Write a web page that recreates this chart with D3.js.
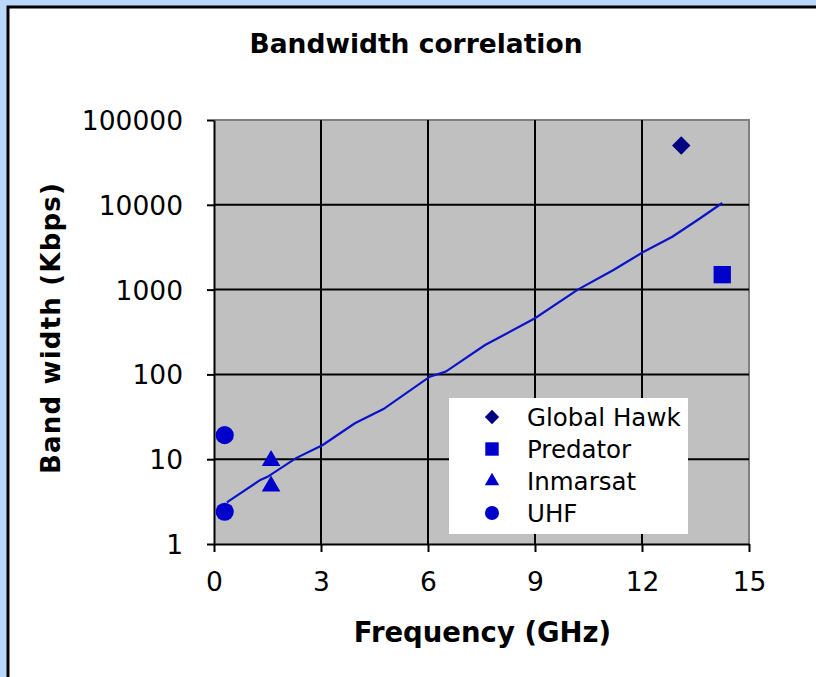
<!DOCTYPE html>
<html>
<head>
<meta charset="utf-8">
<script src="https://cdn.jsdelivr.net/npm/d3@7"></script>
<style>
  html, body { margin: 0; padding: 0; background: #fff; overflow: hidden; }
  svg { display: block; }
</style>
</head>
<body>
<div id="chart"></div>
<script>
!function () {
  'use strict';

  // series (GHz, Kbps)
  var globalHawkX = [13.1],  globalHawkY = [50000];
  var predatorX   = [14.25], predatorY   = [1500];
  var inmarsatX   = [1.6, 1.6], inmarsatY = [9.6, 4.8];
  var uhfX        = [0.3, 0.3], uhfY      = [19.2, 2.4];

  // trendline
  var trendX = [0.36, 1.3, 1.5, 2.3, 3.05, 3.95, 4.75, 6.05, 6.5, 7.6, 9.0, 10.2, 11.2, 12.05, 12.85, 13.6, 14.25];
  var trendY = [3.1, 5.7, 6.2, 10.3, 14.7, 26.5, 39, 94, 108, 222, 460, 1000, 1700, 2800, 4200, 6800, 10500];

  var xTicks = [0, 3, 6, 9, 12, 15];
  var yTicks = [1, 10, 100, 1000, 10000, 100000];

  var legendNames = ["Global Hawk", "Predator", "Inmarsat", "UHF"];

  var W = 816, H = 677;
  var plot = { left: 214, top: 120, right: 749, bottom: 544 };

  var svg = d3.select("#chart").append("svg")
    .attr("width", W)
    .attr("height", H)
    .style("font-family", "'DejaVu Sans', sans-serif");

  // panel: blue strip left/top, black edge, white beyond
  svg.append("rect").attr("x", 0).attr("y", 0).attr("width", W).attr("height", H).attr("fill", "#b9d6fb");
  svg.append("rect").attr("x", 8).attr("y", 7).attr("width", W).attr("height", H).attr("fill", "#fff");
  svg.append("path")
    .attr("d", "M8," + H + "V7H" + W)
    .attr("fill", "none").attr("stroke", "#000").attr("stroke-width", 3);

  var x = d3.scaleLinear().domain([0, 15]).range([plot.left, plot.right]);
  var y = d3.scaleLog().domain([1, 100000]).range([plot.bottom, plot.top]);

  svg.append("rect")
    .attr("x", plot.left).attr("y", plot.top)
    .attr("width", plot.right - plot.left).attr("height", plot.bottom - plot.top)
    .attr("fill", "#c0c0c0");

  // top and right frame
  svg.append("path")
    .attr("d", "M" + plot.left + "," + plot.top + "H" + plot.right + "V" + plot.bottom)
    .attr("fill", "none").attr("stroke", "#808080").attr("stroke-width", 2);

  // gridlines
  svg.append("g").selectAll("line.gy")
    .data(yTicks.slice(1, -1))
    .enter().append("line")
    .attr("x1", plot.left).attr("x2", plot.right)
    .attr("y1", function (d) { return y(d); })
    .attr("y2", function (d) { return y(d); })
    .attr("stroke", "#000").attr("stroke-width", 2);

  svg.append("g").selectAll("line.gx")
    .data(xTicks.slice(1, -1))
    .enter().append("line")
    .attr("y1", plot.top).attr("y2", plot.bottom)
    .attr("x1", function (d) { return x(d); })
    .attr("x2", function (d) { return x(d); })
    .attr("stroke", "#000").attr("stroke-width", 2);

  // axes
  var xAxis = svg.append("g")
    .attr("transform", "translate(0," + plot.bottom + ")")
    .call(d3.axisBottom(x).tickValues(xTicks).tickSize(8).tickPadding(20).tickSizeOuter(0));
  var yAxis = svg.append("g")
    .attr("transform", "translate(" + plot.left + ",0)")
    .call(d3.axisLeft(y).tickValues(yTicks).tickFormat(d3.format("d")).tickSize(7).tickPadding(24).tickSizeOuter(0));

  [xAxis, yAxis].forEach(function (a) {
    a.select(".domain").attr("stroke", "#000").attr("stroke-width", 2);
    a.selectAll(".tick line").attr("stroke", "#000").attr("stroke-width", 2);
    a.selectAll(".tick text")
      .attr("fill", "#000")
      .style("font-size", "26.5px")
      .style("font-family", "'DejaVu Sans', sans-serif");
  });
  yAxis.selectAll(".tick text").attr("dy", "0.36em");

  // trendline
  var trend = d3.zip(trendX, trendY);
  svg.append("path")
    .datum(trend)
    .attr("d", d3.line()
      .x(function (d) { return x(d[0]); })
      .y(function (d) { return y(d[1]); }))
    .attr("fill", "none")
    .attr("stroke", "#0a14c8")
    .attr("stroke-width", 2.2);

  var series = [
    { xs: globalHawkX, ys: globalHawkY, sym: d3.symbolSquare, size: 170, rot: 45, fill: "#000080" },
    { xs: predatorX,   ys: predatorY,   sym: d3.symbolSquare, size: 300, rot: 0,  fill: "#0000cc" },
    { xs: inmarsatX,   ys: inmarsatY,   sym: d3.symbolTriangle, size: 150, rot: 0, fill: "#0000cc" },
    { xs: uhfX,        ys: uhfY,        sym: d3.symbolCircle, size: 260, rot: 0,  fill: "#0000cc" }
  ];

  series.forEach(function (s) {
    svg.append("g").selectAll("path")
      .data(d3.zip(s.xs, s.ys))
      .enter().append("path")
      .attr("d", d3.symbol().type(s.sym).size(s.size))
      .attr("transform", function (d) {
        return "translate(" + x(d[0]) + "," + y(d[1]) + ") rotate(" + s.rot + ")";
      })
      .attr("fill", s.fill);
  });

  // legend
  var lg = svg.append("g").attr("transform", "translate(449,398)");
  lg.append("rect").attr("width", 239).attr("height", 136).attr("fill", "#fff");
  var rows = lg.selectAll("g.row")
    .data(series)
    .enter().append("g")
    .attr("transform", function (d, i) { return "translate(0," + (19 + i * 32) + ")"; });
  rows.append("path")
    .attr("d", function (d) { return d3.symbol().type(d.sym).size(d.size * 0.6)(); })
    .attr("transform", function (d) { return "translate(43,0) rotate(" + d.rot + ")"; })
    .attr("fill", function (d) { return d.fill; });
  rows.append("text")
    .attr("x", 78).attr("dy", "0.36em")
    .style("font-size", "24.5px")
    .attr("fill", "#000")
    .text(function (d, i) { return legendNames[i]; });

  // titles
  svg.append("text")
    .attr("x", 416).attr("y", 53)
    .attr("text-anchor", "middle")
    .style("font-size", "26.5px").style("font-weight", "bold")
    .text("Bandwidth correlation");

  svg.append("text")
    .attr("x", (plot.left + plot.right) / 2 + 1).attr("y", 642)
    .attr("text-anchor", "middle")
    .style("font-size", "27.5px").style("font-weight", "bold")
    .text("Frequency (GHz)");

  svg.append("text")
    .attr("transform", "translate(60," + ((plot.top + plot.bottom) / 2 - 4) + ") rotate(-90)")
    .attr("text-anchor", "middle")
    .style("font-size", "26px").style("font-weight", "bold")
    .style("letter-spacing", "1.2px")
    .text("Band width (Kbps)");

}();
</script>
</body>
</html>
